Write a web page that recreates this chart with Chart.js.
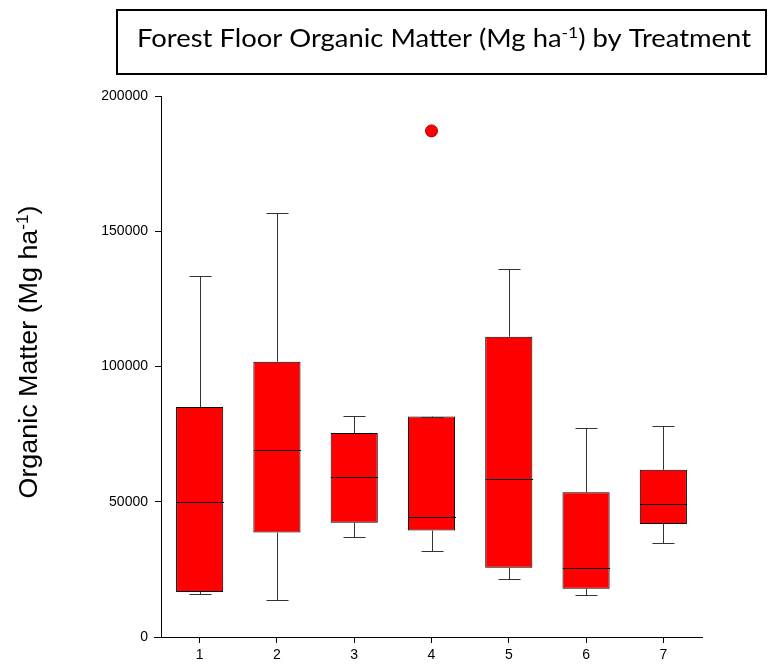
<!DOCTYPE html>
<html>
<head>
<meta charset="utf-8">
<script src="https://cdn.jsdelivr.net/npm/chart.js@4"></script>
<style>
html,body{margin:0;padding:0;background:#fff;}
#wrap{position:relative;width:772px;height:664px;}
</style>
</head>
<body>
<div id="wrap"><canvas id="c" width="772" height="664"></canvas></div>
<script>
const categories = ['1','2','3','4','5','6','7'];
const q1 = [16600, 38600, 42200, 39400, 25600, 17800, 41800];
const q3 = [85000, 101800, 75400, 81500, 111000, 53500, 61800];
const medians = [49900, 69000, 59300, 44300, 58300, 25500, 49000];
const whiskerLow = [16000, 13500, 37100, 31900, 21500, 15500, 34700];
const whiskerHigh = [133400, 156700, 81800, 81500, 136100, 77400, 78100];
const outliers = [null, null, null, 187100, null, null, null];
const yTicks = [0, 50000, 100000, 150000, 200000];
const titleParts = [['Forest Floor Organic Matter (Mg ha', false], ['-1', true], [') by Treatment', false]];
const yTitleParts = [['Organic Matter (Mg ha', false], ['-1', true], [')', false]];

function drawParts(ctx, parts, size, font, cx, cy, targetWidth) {
  ctx.save();
  const supSize = Math.round(size * 0.62);
  let total = 0;
  const widths = parts.map(([t, s]) => {
    ctx.font = (s ? supSize : size) + 'px ' + font;
    const w = ctx.measureText(t).width;
    total += w;
    return w;
  });
  ctx.translate(cx, cy);
  if (targetWidth) ctx.scale(targetWidth / total, 1);
  let x = -total / 2;
  ctx.textBaseline = 'alphabetic';
  ctx.textAlign = 'left';
  ctx.fillStyle = '#000';
  parts.forEach(([t, s], i) => {
    ctx.font = (s ? supSize : size) + 'px ' + font;
    ctx.fillText(t, x, s ? -size * 0.36 : 0);
    x += widths[i];
  });
  ctx.restore();
}

const boxPlugin = {
  id: 'boxPlugin',
  beforeDraw(chart) {
    const ctx = chart.ctx;
    ctx.save();
    ctx.fillStyle = '#fff';
    ctx.fillRect(0, 0, chart.width, chart.height);
    ctx.restore();
  },
  afterDatasetsDraw(chart) {
    const ctx = chart.ctx;
    const xs = chart.scales.x, ys = chart.scales.y;
    const meta = chart.getDatasetMeta(0);
    ctx.save();
    ctx.lineWidth = 1;
    categories.forEach((c, i) => {
      const bar = meta.data[i];
      const cx = Math.round(xs.getPixelForValue(i)) + 0.5;
      const half = bar.width / 2;
      const capHalf = 11;
      const yHi = Math.round(ys.getPixelForValue(whiskerHigh[i])) + 0.5;
      const yLo = Math.round(ys.getPixelForValue(whiskerLow[i])) + 0.5;
      const yQ3 = ys.getPixelForValue(q3[i]);
      const yQ1 = ys.getPixelForValue(q1[i]);
      const yMed = Math.round(ys.getPixelForValue(medians[i])) + 0.5;
      ctx.strokeStyle = '#333';
      ctx.beginPath();
      ctx.moveTo(cx, yQ3); ctx.lineTo(cx, yHi);
      ctx.moveTo(cx - capHalf, yHi); ctx.lineTo(cx + capHalf, yHi);
      ctx.moveTo(cx, yQ1); ctx.lineTo(cx, yLo);
      ctx.moveTo(cx - capHalf, yLo); ctx.lineTo(cx + capHalf, yLo);
      ctx.stroke();
      ctx.strokeStyle = '#000';
      ctx.beginPath();
      ctx.moveTo(cx - half, yMed); ctx.lineTo(cx + half, yMed);
      ctx.stroke();
    });
    const ya = Math.round(ys.getPixelForValue(0)) + 0.5;
    ctx.strokeStyle = '#000';
    ctx.beginPath();
    ctx.moveTo(chart.chartArea.left - 7, ya);
    ctx.lineTo(chart.chartArea.left, ya);
    ctx.stroke();
    ctx.restore();
  },
  afterDraw(chart) {
    const ctx = chart.ctx;
    ctx.save();
    ctx.strokeStyle = '#000';
    ctx.lineWidth = 2;
    ctx.strokeRect(117, 10, 649, 64);
    ctx.restore();
    drawParts(ctx, titleParts, 25, 'Lato', 444, 47, 614);
    ctx.save();
    ctx.translate(37, 352);
    ctx.rotate(-Math.PI / 2);
    drawParts(ctx, yTitleParts, 25, '"Liberation Sans"', 0, 0, 293);
    ctx.restore();
  }
};

new Chart(document.getElementById('c'), {
  type: 'bar',
  data: {
    labels: categories,
    datasets: [
      {
        type: 'bar',
        data: categories.map((c, i) => [q1[i], q3[i]]),
        backgroundColor: '#ff0000',
        borderColor: '#000',
        borderWidth: 1,
        borderSkipped: false,
        categoryPercentage: 1,
        barPercentage: 0.61
      },
      {
        type: 'line',
        data: outliers,
        showLine: false,
        pointRadius: 6,
        pointBackgroundColor: '#ff0000',
        pointBorderColor: '#b00000',
        pointBorderWidth: 1
      }
    ]
  },
  options: {
    responsive: false,
    animation: false,
    layout: { padding: { top: 96, right: 70, left: 0, bottom: 0 } },
    plugins: { legend: { display: false }, tooltip: { enabled: false }, title: { display: false } },
    scales: {
      x: {
        offset: true,
        grid: { display: true, drawOnChartArea: false, offset: false, tickLength: 6, color: '#000' },
        border: { display: true, color: '#000', width: 1 },
        ticks: { color: '#000', font: { family: 'Liberation Sans', size: 14 }, padding: 4 },
        afterFit(s) { s.height = 27; }
      },
      y: {
        min: 0, max: 200000,
        afterBuildTicks(s) { s.ticks = yTicks.map(v => ({ value: v })); },
        grid: { display: true, drawOnChartArea: false, tickLength: 6, color: '#000' },
        border: { display: true, color: '#000', width: 1 },
        ticks: { color: '#000', font: { family: 'Liberation Sans', size: 14 }, padding: 7,
                 callback: v => String(v) },
        afterFit(s) { s.width = 161; }
      }
    }
  },
  plugins: [boxPlugin]
});
</script>
</body>
</html>
